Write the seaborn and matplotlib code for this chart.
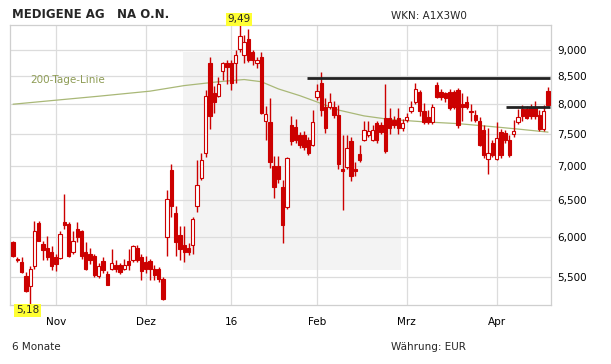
import matplotlib
matplotlib.use("Agg")
import matplotlib.pyplot as plt
import seaborn as sns
import pandas as pd
from matplotlib.patches import Rectangle

# ---------------- data ----------------
opens = [5.93, 5.71, 5.68, 5.51, 5.39, 5.63, 6.18, 5.91, 5.85, 5.80,
         5.74, 5.73, 6.19, 6.17, 5.80, 6.10, 6.07, 5.80, 5.78, 5.75,
         5.51, 5.69, 5.54, 5.60, 5.64, 5.64, 5.60, 5.69, 5.70, 5.85,
         5.74, 5.68, 5.69, 5.60, 5.59, 5.47, 6.00, 6.94, 6.32, 6.03,
         5.90, 5.86, 5.90, 6.42, 6.81, 7.20, 8.75, 8.19, 8.15, 8.59,
         8.74, 8.75, 8.74, 9.02, 8.90, 9.22, 8.96, 8.75, 8.87, 7.72,
         7.69, 6.99, 6.99, 6.69, 6.40, 7.65, 7.62, 7.48, 7.48, 7.40,
         7.33, 8.12, 8.37, 7.95, 7.95, 7.95, 7.81, 6.95, 6.98, 7.39,
         6.94, 7.18, 7.40, 7.48, 7.40, 7.68, 7.65, 7.76, 7.76, 7.73,
         7.76, 7.60, 7.73, 7.88, 8.04, 8.21, 7.88, 7.78, 7.69, 8.34,
         8.21, 8.19, 8.21, 8.21, 8.25, 8.00, 8.03, 7.89, 7.82, 7.72,
         7.57, 7.11, 7.36, 7.11, 7.53, 7.52, 7.40, 7.50, 7.70, 7.92,
         7.91, 7.93, 7.96, 7.82, 7.58, 8.24]
highs = [5.95, 5.74, 5.74, 5.56, 5.63, 6.21, 6.21, 5.94, 6.01, 5.88,
         5.78, 6.07, 6.59, 6.19, 6.07, 6.20, 6.09, 5.93, 5.85, 5.78,
         5.67, 5.74, 5.57, 5.84, 5.70, 5.67, 5.72, 5.84, 5.89, 5.90,
         5.78, 5.75, 5.72, 5.64, 5.62, 5.50, 6.64, 7.02, 6.41, 6.14,
         6.14, 5.92, 6.27, 7.09, 7.20, 8.25, 8.87, 8.33, 8.48, 8.77,
         8.80, 8.81, 9.00, 9.49, 9.30, 9.42, 9.00, 8.87, 8.95, 7.97,
         8.10, 7.15, 7.15, 6.78, 7.13, 7.79, 7.75, 7.53, 7.55, 7.45,
         7.90, 8.35, 8.57, 8.10, 8.19, 8.05, 7.98, 7.48, 7.48, 7.45,
         7.05, 7.33, 7.71, 7.71, 7.65, 7.71, 7.70, 8.36, 7.93, 7.80,
         7.93, 7.75, 7.85, 8.05, 8.37, 8.25, 8.02, 7.90, 8.00, 8.39,
         8.27, 8.22, 8.27, 8.25, 8.28, 8.20, 8.15, 8.00, 7.90, 7.78,
         7.65, 7.60, 7.40, 7.70, 7.58, 7.57, 7.48, 7.73, 7.92, 7.98,
         7.97, 8.00, 8.06, 7.90, 7.98, 8.30]
lows = [5.74, 5.68, 5.55, 5.32, 5.18, 5.60, 5.94, 5.70, 5.70, 5.58,
        5.57, 5.72, 6.10, 5.74, 5.78, 5.93, 5.72, 5.58, 5.66, 5.50,
        5.49, 5.55, 5.40, 5.58, 5.56, 5.54, 5.58, 5.58, 5.68, 5.68,
        5.46, 5.55, 5.46, 5.46, 5.44, 5.23, 5.76, 6.26, 5.75, 5.71,
        5.68, 5.77, 5.78, 6.33, 6.78, 7.13, 7.58, 7.85, 8.12, 8.43,
        8.35, 8.25, 8.38, 8.95, 8.75, 8.77, 8.71, 8.66, 7.83, 7.40,
        6.97, 6.53, 6.75, 5.92, 6.38, 7.33, 7.35, 7.28, 7.25, 7.17,
        7.30, 8.08, 7.80, 7.52, 7.92, 7.76, 6.95, 6.36, 6.95, 6.77,
        6.85, 7.05, 7.38, 7.45, 7.38, 7.36, 7.50, 7.20, 7.50, 7.60,
        7.50, 7.55, 7.70, 7.85, 8.00, 7.80, 7.66, 7.66, 7.66, 8.10,
        8.08, 8.04, 7.90, 7.91, 7.59, 7.72, 7.92, 7.72, 7.70, 7.30,
        7.12, 6.88, 7.14, 7.09, 7.12, 7.36, 7.14, 7.45, 7.66, 7.72,
        7.74, 7.75, 7.74, 7.55, 7.55, 7.97]
closes = [5.76, 5.70, 5.56, 5.33, 5.60, 6.08, 5.95, 5.83, 5.74, 5.63,
          5.66, 6.04, 6.16, 5.75, 5.95, 6.00, 5.76, 5.60, 5.71, 5.52,
          5.63, 5.58, 5.41, 5.67, 5.60, 5.56, 5.65, 5.65, 5.88, 5.70,
          5.57, 5.59, 5.59, 5.52, 5.47, 5.24, 6.51, 6.42, 5.93, 5.84,
          5.80, 5.81, 6.24, 6.72, 7.09, 8.15, 7.80, 8.03, 8.35, 8.74,
          8.68, 8.38, 8.90, 9.28, 9.16, 8.81, 8.81, 8.81, 7.85, 7.83,
          7.06, 6.68, 6.80, 6.15, 7.12, 7.38, 7.40, 7.33, 7.29, 7.19,
          7.70, 8.24, 7.90, 7.59, 8.04, 7.81, 7.02, 6.92, 7.28, 6.84,
          6.92, 7.09, 7.56, 7.55, 7.56, 7.40, 7.54, 7.22, 7.60, 7.65,
          7.60, 7.68, 7.78, 7.96, 8.26, 7.88, 7.70, 7.69, 7.96, 8.13,
          8.13, 8.10, 7.94, 7.95, 7.65, 7.95, 7.95, 7.86, 7.73, 7.33,
          7.16, 7.20, 7.17, 7.44, 7.16, 7.41, 7.16, 7.55, 7.78, 7.79,
          7.77, 7.80, 7.80, 7.58, 7.88, 7.99]

# 200-day line, read at a few trading-day positions
ma_idx = [0, 10, 20, 32, 40, 48, 54, 58, 62, 67, 71, 76, 82, 88, 96, 104, 112, 118, 125]
ma_val = [8.00, 8.07, 8.14, 8.23, 8.33, 8.40, 8.44, 8.40, 8.27, 8.15,
          8.04, 7.90, 7.80, 7.74, 7.70, 7.67, 7.62, 7.58, 7.53]

month_idx = [10, 31, 51, 71, 92, 113]
month_labels = ["Nov", "Dez", "16", "Feb", "Mrz", "Apr"]
y_ticks = [5.5, 6.0, 6.5, 7.0, 7.5, 8.0, 8.5, 9.0]
y_labels = ["5,500", "6,000", "6,500", "7,000", "7,500", "8,000", "8,500", "9,000"]

resist_level = [8.465, 7.96]
resist_from = [68.7, 115.1]
resist_to = [125.4, 125.4]

# ---------------- drawing ----------------
sns.set_style("white")
plt.rcParams["font.family"] = ["DejaVu Sans"]

df = pd.DataFrame({"o": opens, "h": highs, "l": lows, "c": closes})
df["x"] = range(len(df))

W, H = 611, 364
fig = plt.figure(figsize=(W / 100, H / 100), dpi=100)
ax = fig.add_axes([10 / W, 59 / H, 541 / W, 280 / H])
ax.set_yscale("log")
ax.set_ylim(5.175, 9.50)
ax.set_xlim(-0.72, 125.7)

# watermark background
ax.add_patch(Rectangle((0.32, 0.125), 0.403, 0.778, transform=ax.transAxes,
                       facecolor="#f3f3f3", edgecolor="none", zorder=0))

# grid
for yv in y_ticks:
    ax.axhline(yv, color="#dcdcdc", lw=0.9, zorder=1)
for xv in month_idx:
    ax.axvline(xv, color="#dcdcdc", lw=0.9, zorder=1)

red = "#cc0000"
ax.vlines(df["x"], df["l"], df["h"], color=red, lw=1.0, zorder=3)
bw = 0.78
for _, r in df.iterrows():
    lo, hi = min(r.o, r.c), max(r.o, r.c)
    if hi / lo < 1.004:
        hi = lo * 1.004
    up = r.c > r.o
    ax.bar(r.x, hi - lo, bottom=lo, width=bw,
           facecolor="white" if up else red, edgecolor=red,
           linewidth=0.8, zorder=4)

sns.lineplot(x=ma_idx, y=ma_val, ax=ax, color="#a9b877", lw=0.9, zorder=2)

for lv, x0, x1 in zip(resist_level, resist_from, resist_to):
    ax.hlines(lv, x0, x1, color="#222222", lw=2.0, zorder=5)

# spines & ticks
for s in ax.spines.values():
    s.set_color("#cfcfcf")
    s.set_linewidth(0.9)
ax.yaxis.tick_right()
ax.set_yticks(y_ticks)
ax.set_yticklabels(y_labels)
ax.yaxis.set_minor_locator(plt.NullLocator())
ax.set_xticks(month_idx)
ax.set_xticklabels(month_labels)
ax.tick_params(axis="both", length=0, labelsize=7.5, colors="#000000")
ax.tick_params(axis="y", pad=4.5)
ax.tick_params(axis="x", pad=8.5)
ax.set_xlabel("")
ax.set_ylabel("")

# high / low markers
i_hi = int(df["h"].idxmax())
i_lo = int(df["l"].idxmin())
box = dict(boxstyle="square,pad=0.15", facecolor="#ffff33", edgecolor="none")
ax.annotate(f"{df['h'][i_hi]:.2f}".replace(".", ","), xy=(i_hi, df["h"][i_hi]),
            xytext=(-0.5, 4.5), textcoords="offset points", ha="center", va="center",
            fontsize=7.5, bbox=box, annotation_clip=False, zorder=6)
ax.annotate(f"{df['l'][i_lo]:.2f}".replace(".", ","), xy=(i_lo, df["l"][i_lo]),
            xytext=(-2, -4.2), textcoords="offset points", ha="center", va="center",
            fontsize=7.5, bbox=box, annotation_clip=False, zorder=6)

# texts
fig.text(12 / W, 1 - 15 / H, "MEDIGENE AG   NA O.N.", fontsize=8.5, fontweight="bold",
         ha="left", va="center")
fig.text(391 / W, 1 - 16 / H, "WKN: A1X3W0", fontsize=7.5, ha="left", va="center")
fig.text(30 / W, 1 - 80 / H, "200-Tage-Linie", fontsize=7.5, color="#8e9c55",
         ha="left", va="center")
fig.text(12 / W, 1 - 347 / H, "6 Monate", fontsize=7.5, ha="left", va="center")
fig.text(391 / W, 1 - 347 / H, "Währung: EUR", fontsize=7.5, ha="left", va="center")

fig.savefig("out.png", dpi=100)
